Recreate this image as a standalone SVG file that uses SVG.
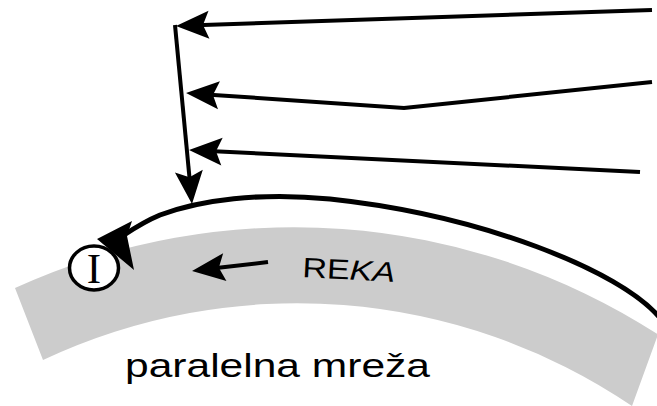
<svg xmlns="http://www.w3.org/2000/svg" width="657" height="406" viewBox="0 0 657 406">
  <style>
    .ln { fill: none; stroke: #000; stroke-width: 4; stroke-linejoin: miter; }
    .band { fill: #cccccc; stroke: none; }
    .lbl { font-family: "Liberation Sans", Arial, sans-serif; fill: #000; }
  </style>
  <defs>
    <marker id="ah" markerUnits="userSpaceOnUse" orient="auto" overflow="visible" refX="0" refY="0" markerWidth="1" markerHeight="1">
      <path d="M20,0 L-13,-14 L-7,0 L-13,14 Z" fill="#000"/>
    </marker>
  </defs>
  <rect width="657" height="406" fill="#fff"/>

  <g id="band">
    <path class="band" d="M15,288 A671,671 0 0 1 658,334.5 L632,406 A597,597 0 0 0 43,360 Z"/>
  </g>

  <g id="connectors">
    <path class="ln" d="M652,10 L196,25.3" marker-end="url(#ah)"/>
    <path class="ln" d="M175,25 L190.1,184.1" marker-end="url(#ah)"/>
    <path class="ln" d="M652,82 L404,108 L206,94.4" marker-end="url(#ah)"/>
    <path class="ln" d="M640,172 L209,151" marker-end="url(#ah)"/>
    <path class="ln" d="M268,262 L211.9,268.6" marker-end="url(#ah)"/>
    <path class="ln" style="stroke-width:5" d="M660,318 C620,270 480,215 330,199 C260,192 200,200 160,215 C148,220 136,227 124,235"/>
  </g>

  <g id="node-I">
    <ellipse cx="94" cy="268" rx="24.5" ry="22" fill="#fff" stroke="#000" stroke-width="3.5"/>
    <text x="94" y="283" text-anchor="middle" font-family="Liberation Serif, 'Times New Roman', serif" font-size="43">I</text>
  </g>
  <path id="curve-head" d="M97,239 L132,221 L127,236 L134,270 Z" fill="#000"/>

  <g id="label-reka">
    <text class="lbl" x="302" y="277" font-size="28" textLength="93" lengthAdjust="spacingAndGlyphs" transform="rotate(3 302 277)">RE<tspan font-style="italic">KA</tspan></text>
  </g>
  <g id="label-mreza">
    <text class="lbl" x="125" y="377" font-size="34" textLength="305" lengthAdjust="spacingAndGlyphs">paralelna mreža</text>
  </g>
</svg>
